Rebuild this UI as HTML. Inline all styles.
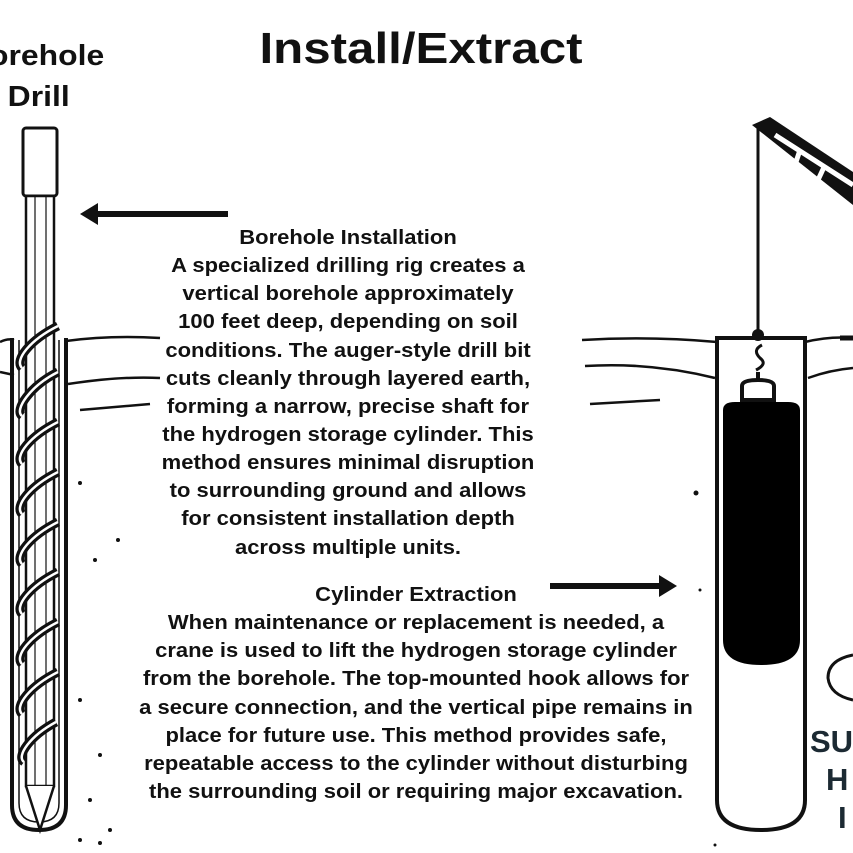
<!DOCTYPE html>
<html><head><meta charset="utf-8"><style>
body{margin:0;background:#fff}
svg{display:block}
text{font-family:"Liberation Sans",sans-serif;font-weight:bold;fill:#111}
</style></head><body>
<svg width="853" height="853" viewBox="0 0 853 853" xmlns="http://www.w3.org/2000/svg">
<!-- ground lines -->
<g stroke="#111" fill="none" stroke-width="2.5">
<path d="M0 342 Q8 338 14 340"/><path d="M66 341 Q110 335 160 338"/>
<path d="M0 372 L14 375"/><path d="M68 384 Q120 376 160 378"/>
<path d="M80 410 L150 404"/>
<path d="M582 340 Q650 336 717 342"/><path d="M805 342 Q830 336 853 338"/>
<path d="M585 366 Q650 362 715 378"/><path d="M808 378 Q830 370 853 368"/>
<path d="M590 404 L660 400"/>
</g>
<!-- left tube -->
<path d="M12 338 L12 805 Q12 830 39 830 Q66 830 66 805 L66 338" fill="none" stroke="#111" stroke-width="4"/>
<path d="M19 340 L19 803 Q19 822 39 822 Q59 822 59 803 L59 340" fill="none" stroke="#111" stroke-width="1.5"/>
<!-- drill rod -->
<rect x="23" y="128" width="34" height="68" rx="3" fill="#fff" stroke="#111" stroke-width="3"/>
<rect x="26" y="196" width="28" height="590" fill="#fff" stroke="#111" stroke-width="2.5"/>
<line x1="35" y1="196" x2="35" y2="786" stroke="#111" stroke-width="1.2"/>
<line x1="46" y1="196" x2="46" y2="786" stroke="#111" stroke-width="1.2"/>
<path d="M26 786 L40 830 L54 786" fill="#fff" stroke="#111" stroke-width="2.5"/>
<!-- spiral -->
<g fill="none" stroke="#111" stroke-width="9">
<path d="M58 326 C30 340 14 360 22 368 M58 372 C30 386 14 410 22 416 M58 422 C30 436 14 456 22 464 M58 472 C30 486 14 506 22 514 M58 522 C30 536 14 556 22 564 M58 572 C30 586 14 606 22 614 M58 622 C30 636 14 656 22 664 M58 672 C30 686 14 706 22 714 M56 722 C30 736 16 756 24 762"/>
</g>
<g fill="none" stroke="#fff" stroke-width="2.5">
<path d="M58 326 C30 340 14 360 22 368 M58 372 C30 386 14 410 22 416 M58 422 C30 436 14 456 22 464 M58 472 C30 486 14 506 22 514 M58 522 C30 536 14 556 22 564 M58 572 C30 586 14 606 22 614 M58 622 C30 636 14 656 22 664 M58 672 C30 686 14 706 22 714 M56 722 C30 736 16 756 24 762"/>
</g>
<!-- right tube -->
<path d="M717 338 L717 800 Q717 830 761 830 Q805 830 805 800 L805 338 Z" fill="#fff" stroke="#111" stroke-width="4"/>
<path d="M723 410 Q723 402 735 402 L788 402 Q800 402 800 410 L800 640 Q800 665 761 665 Q723 665 723 640 Z" fill="#000"/>
<!-- crane -->
<line x1="758" y1="125" x2="758" y2="333" stroke="#111" stroke-width="3"/>
<path d="M752 125 L770 117 L853 172 L853 205 Z" fill="#111"/>
<path d="M775 135 L853 185 M800 150 L795 165 M825 165 L818 180" stroke="#fff" stroke-width="5" fill="none"/>
<circle cx="758" cy="335" r="6" fill="#111"/>
<path d="M762 345 Q752 350 760 358 Q768 364 756 370" fill="none" stroke="#111" stroke-width="3"/>
<path d="M758 372 L758 380 M742 400 L742 386 Q742 380 758 380 Q774 380 774 386 L774 400 Z" fill="none" stroke="#111" stroke-width="4"/>
<line x1="840" y1="338" x2="853" y2="338" stroke="#111" stroke-width="5"/>
<path d="M853 655 Q828 660 828 678 Q830 695 853 700" fill="none" stroke="#111" stroke-width="3"/>
<!-- arrows -->
<line x1="228" y1="214" x2="95" y2="214" stroke="#111" stroke-width="6"/>
<path d="M80 214 L98 203 L98 225 Z" fill="#111"/>
<line x1="550" y1="586" x2="662" y2="586" stroke="#111" stroke-width="6"/>
<path d="M677 586 L659 575 L659 597 Z" fill="#111"/>
<!-- dots -->
<g fill="#111">
<circle cx="80" cy="483" r="2"/><circle cx="95" cy="560" r="2"/><circle cx="118" cy="540" r="2"/><circle cx="80" cy="700" r="2"/><circle cx="100" cy="755" r="2"/><circle cx="90" cy="800" r="2"/><circle cx="110" cy="830" r="2"/><circle cx="80" cy="840" r="2"/><circle cx="100" cy="843" r="2"/><circle cx="696" cy="493" r="2.5"/><circle cx="700" cy="590" r="1.5"/><circle cx="715" cy="845" r="1.5"/>
</g>
<!-- text -->
<g transform="translate(421 0) scale(1.12 1)">
<text x="0" y="63" font-size="44" text-anchor="middle">Install/Extract</text>
</g>
<g transform="scale(1.1 1)">
<text x="-10" y="65" font-size="29">orehole</text>
<text x="7" y="106" font-size="29">Drill</text>
</g>
<g font-size="20" text-anchor="middle" transform="translate(348 0) scale(1.1 1)">
<text x="0" y="244">Borehole Installation</text>
<text x="0" y="272">A specialized drilling rig creates a</text>
<text x="0" y="300">vertical borehole approximately</text>
<text x="0" y="328">100 feet deep, depending on soil</text>
<text x="0" y="357">conditions. The auger-style drill bit</text>
<text x="0" y="385">cuts cleanly through layered earth,</text>
<text x="0" y="413">forming a narrow, precise shaft for</text>
<text x="0" y="441">the hydrogen storage cylinder. This</text>
<text x="0" y="469">method ensures minimal disruption</text>
<text x="0" y="497">to surrounding ground and allows</text>
<text x="0" y="525">for consistent installation depth</text>
<text x="0" y="554">across multiple units.</text>
</g>
<g font-size="20" text-anchor="middle" transform="translate(416 0) scale(1.1 1)">
<text x="0" y="601">Cylinder Extraction</text>
<text x="0" y="629">When maintenance or replacement is needed, a</text>
<text x="0" y="657">crane is used to lift the hydrogen storage cylinder</text>
<text x="0" y="685">from the borehole. The top-mounted hook allows for</text>
<text x="0" y="714">a secure connection, and the vertical pipe remains in</text>
<text x="0" y="742">place for future use. This method provides safe,</text>
<text x="0" y="770">repeatable access to the cylinder without disturbing</text>
<text x="0" y="798">the surrounding soil or requiring major excavation.</text>
</g>
<g font-size="31">
<text x="810" y="752" style="fill:#1c2a33">SU</text>
<text x="826" y="790" style="fill:#1c2a33">H</text>
<text x="838" y="828" style="fill:#1c2a33">I</text>
</g>
</svg>
</body></html>
